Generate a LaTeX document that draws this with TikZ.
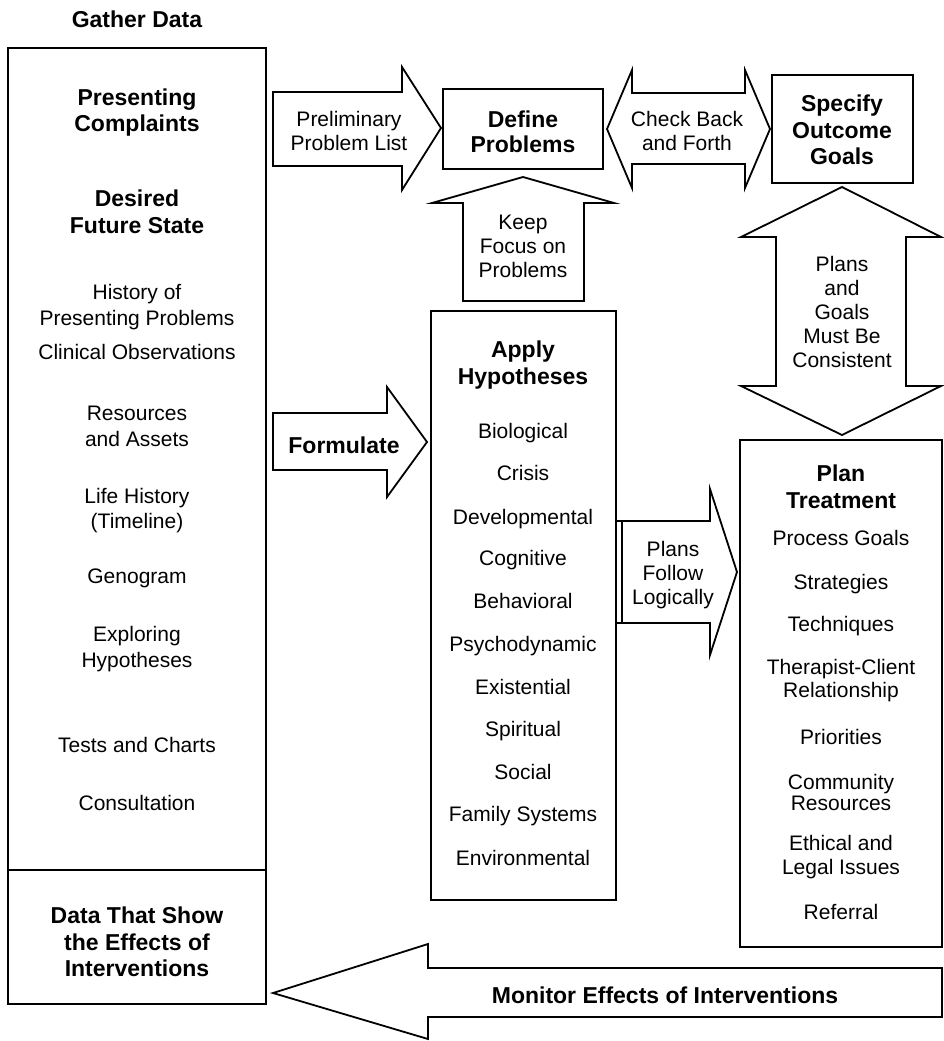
\documentclass[tikz,border=0pt]{standalone}
\usepackage{fontspec}
\setmainfont{Liberation Sans}
\begin{document}
\begin{tikzpicture}[x=1pt,y=-1pt,
  outline/.style={draw=black, line width=1.8pt, line join=miter, fill=white},
  lbl/.style={inner sep=0pt, align=center, font=\fontsize{21}{24}\selectfont},
  one/.style={lbl, text height=15pt, text depth=5pt},
  lbltall/.style={lbl, font=\fontsize{21}{25.5}\selectfont},
  ttl/.style={inner sep=0pt, align=center, font=\bfseries\fontsize{23}{26.5}\selectfont},
]
\useasboundingbox (0,0) rectangle (944,1041);

% ---- boxes ----
\draw[outline] (8,48) rectangle (266,1004);
\draw[outline] (8,870) -- (266,870);
\draw[outline] (443,89) rectangle (603,169);
\draw[outline] (772,75) rectangle (913,183);
\draw[outline] (431,311) rectangle (616,900);
\draw[outline] (740,440) rectangle (942,947);

% ---- block arrows ----
% preliminary problem list
\draw[outline] (273,92) -- (402,92) -- (402,67) -- (441,128) -- (402,190)
  -- (402,166) -- (273,166) -- cycle;
% check back and forth
\draw[outline] (607,129) -- (632,70) -- (632,93) -- (745,93) -- (745,70)
  -- (770,129) -- (745,188) -- (745,164) -- (632,164) -- (632,188) -- cycle;
% keep focus on problems
\draw[outline] (523,177) -- (614,203) -- (584,203) -- (584,301) -- (463,301)
  -- (463,203) -- (432,203) -- cycle;
% plans and goals must be consistent
\draw[outline] (842,187) -- (941,237) -- (906,237) -- (906,386) -- (941,386)
  -- (842,435) -- (741,386) -- (776,386) -- (776,237) -- (741,237) -- cycle;
% formulate
\draw[outline] (273,413) -- (387,413) -- (387,387) -- (427,442) -- (387,497)
  -- (387,470) -- (273,470) -- cycle;
% plans follow logically
\draw[outline] (622,521) -- (710,521) -- (710,489) -- (737,572) -- (710,655)
  -- (710,623) -- (622,623) -- cycle;
\draw[outline] (616,521) -- (622,521);
\draw[outline] (616,623) -- (622,623);
% monitor effects of interventions
\draw[outline] (273,993) -- (428,944) -- (428,968) -- (942,968) -- (942,1017)
  -- (428,1017) -- (428,1039) -- cycle;

% ---- gather data column ----
\node[ttl] (gather) at (137,19) {Gather Data};
\node[ttl] (complaints) at (137,112.5) {Presenting\\Complaints};
\node[ttl] (future) at (137,212) {Desired\\Future State};
\node[lbltall] (history) at (137,307) {History of\\Presenting Problems};
\node[one] (observ) at (137,354) {Clinical Observations};
\node[lbltall] (resources) at (137,426.5) {Resources\\and Assets};
\node[lbltall] (life) at (137,510.5) {Life History\\(Timeline)};
\node[one] (genogram) at (137,578) {Genogram};
\node[lbltall] (exploring) at (137,649) {Exploring\\Hypotheses};
\node[one] (tests) at (137,747) {Tests and Charts};
\node[one] (consult) at (137,805) {Consultation};
\node[ttl] (effects) at (137,942) {Data That Show\\the Effects of\\Interventions};

% ---- top row ----
\node[lbl] (prelim) at (349,130.5) {Preliminary\\Problem List};
\node[ttl, font=\bfseries\fontsize{23}{25}\selectfont] (define) at (523,131.5) {Define\\Problems};
\node[lbl] (check) at (687,130.5) {Check Back\\and Forth};
\node[ttl] (specify) at (842,130) {Specify\\Outcome\\Goals};
\node[lbl] (focus) at (523,246) {Keep\\Focus on\\Problems};
\node[lbl] (consistent) at (842,312) {Plans\\and\\Goals\\Must Be\\Consistent};
\node[ttl] (formulate) at (344,445) {Formulate};
\node[lbl] (follow) at (673,575) {Plans\\Follow\\Logically};

% ---- hypotheses ----
\node[ttl] (apply) at (523,365) {Apply\\Hypotheses};
\node[one] (h1) at (523,433) {Biological};
\node[one] (h2) at (523,475) {Crisis};
\node[one] (h3) at (523,519) {Developmental};
\node[one] (h4) at (523,560) {Cognitive};
\node[one] (h5) at (523,603) {Behavioral};
\node[one] (h6) at (523,646) {Psychodynamic};
\node[one] (h7) at (523,689) {Existential};
\node[one] (h8) at (523,731) {Spiritual};
\node[one] (h9) at (523,774) {Social};
\node[one] (h10) at (523,816) {Family Systems};
\node[one] (h11) at (523,860) {Environmental};

% ---- treatment plan ----
\node[ttl] (plan) at (841,487) {Plan\\Treatment};
\node[one] (t1) at (841,540) {Process Goals};
\node[one] (t2) at (841,584) {Strategies};
\node[one] (t3) at (841,626) {Techniques};
\node[lbl, font=\fontsize{21}{23}\selectfont] (t4) at (841,680.5) {Therapist-Client\\Relationship};
\node[one] (t5) at (841,739) {Priorities};
\node[lbl, font=\fontsize{21}{21.5}\selectfont] (t6) at (841,792.5) {Community\\Resources};
\node[lbl] (t7) at (841,857) {Ethical and\\Legal Issues};
\node[one] (t8) at (841,914) {Referral};

% ---- monitoring ----
\node[ttl] (monitor) at (665,995) {Monitor Effects of Interventions};
\end{tikzpicture}
\end{document}
